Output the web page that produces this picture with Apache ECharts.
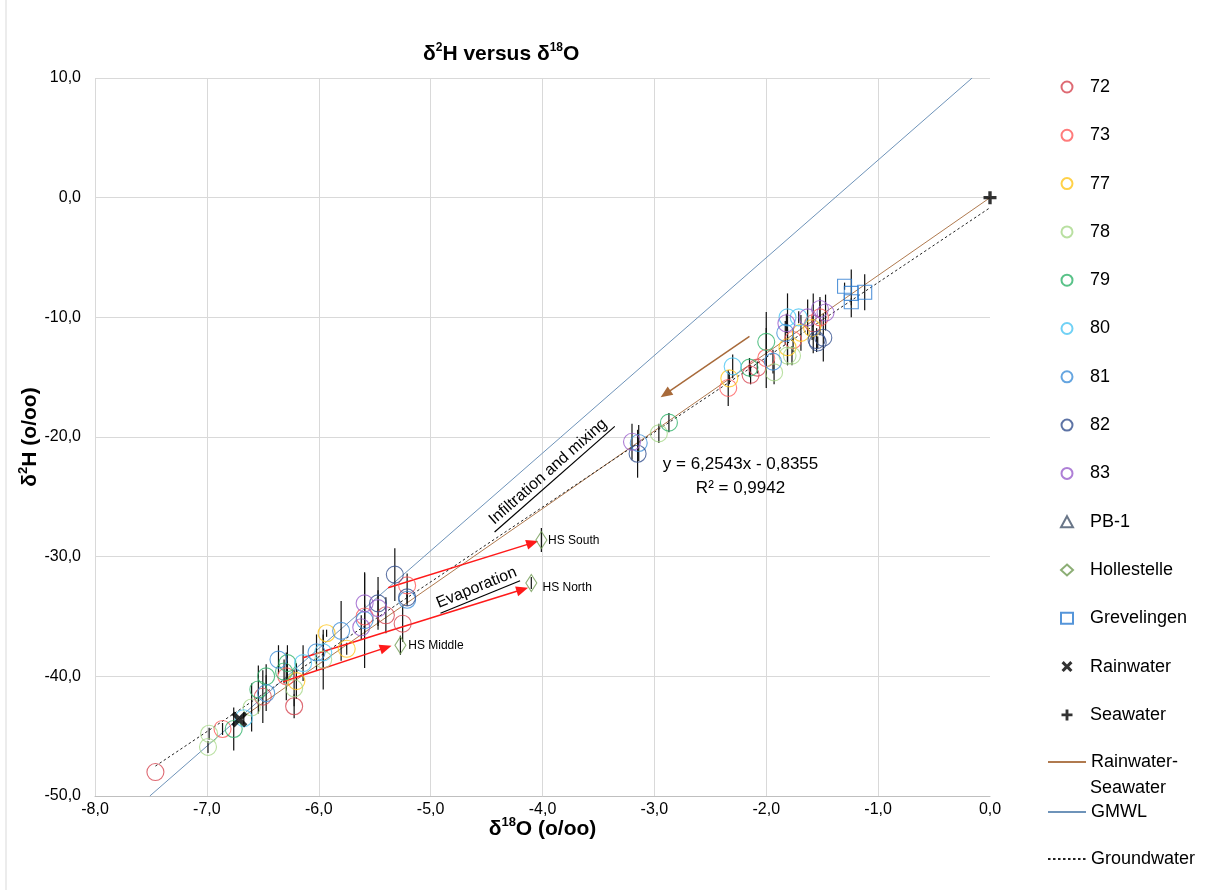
<!DOCTYPE html>
<html>
<head>
<meta charset="utf-8">
<script src="https://cdn.jsdelivr.net/npm/echarts@6/dist/echarts.min.js"></script>
<style>
html,body{margin:0;padding:0;background:#fff;}
#c{width:1214px;height:890px;}
</style>
</head>
<body>
<div id="c"></div>
<script>
// ---- data: [δ18O, δ2H, error(±δ2H)] ----
const d72 = [[-7.46,-48.0,0],[-6.50,-41.7,2.2],[-6.22,-42.5,1.0],[-5.40,-34.9,1.5],[-5.25,-35.6,1.5],[-2.14,-14.8,0.8],[-2.08,-14.2,0.5],[-1.58,-10.5,2.5]];
const d73 = [[-6.86,-44.4,0.5],[-6.29,-40.0,2.0],[-5.59,-35.0,1.0],[-5.21,-32.4,1.0],[-2.34,-15.9,1.5],[-2.00,-13.4,2.5],[-1.76,-11.9,1.0],[-1.52,-10.0,1.5]];
const d77 = [[-6.20,-40.4,1.5],[-5.93,-36.4,0.3],[-5.75,-37.7,0.5],[-2.33,-15.1,0.5],[-1.81,-12.5,1.5],[-1.69,-11.3,1.5],[-1.59,-10.9,1.0]];
const d78 = [[-6.98,-44.8,0.5],[-6.99,-45.9,0.5],[-6.60,-42.6,2.0],[-6.22,-41.0,1.5],[-5.96,-38.6,2.5],[-2.96,-19.7,0.8],[-1.93,-14.6,1.0],[-1.81,-13.2,0.8],[-1.77,-13.2,0.8]];
const d79 = [[-6.76,-44.4,1.8],[-6.54,-41.1,2.0],[-6.47,-40.0,1.0],[-6.28,-38.9,1.5],[-6.31,-39.6,1.0],[-2.87,-18.8,0.8],[-2.15,-14.2,0.8],[-2.00,-12.05,2.5]];
const d80 = [[-6.67,-43.5,0.5],[-6.14,-38.9,1.5],[-5.96,-38.0,1.5],[-2.30,-14.1,1.0],[-1.81,-10.0,2.0],[-1.71,-10.0,0.5]];
const d81 = [[-6.47,-41.4,1.5],[-6.36,-38.6,1.2],[-6.02,-38.0,1.5],[-5.80,-36.2,2.5],[-5.59,-35.3,4.0],[-5.21,-33.6,0.5],[-3.14,-20.5,1.5],[-1.94,-13.7,1.0],[-1.83,-11.3,1.0]];
const d82 = [[-5.47,-33.9,2.2],[-5.32,-31.5,2.2],[-5.21,-33.4,0.5],[-3.15,-21.4,2.0],[-1.55,-11.9,1.0],[-1.49,-11.7,2.0],[-1.54,-12.1,0.5]];
const d83 = [[-5.62,-35.9,1.0],[-5.59,-33.9,2.5],[-5.47,-34.3,1.5],[-3.20,-20.4,1.5],[-1.82,-10.5,0.8],[-1.63,-10.0,1.5],[-1.52,-9.3,1.0],[-1.47,-9.6,1.5]];
const dPB1 = [];
const dHollestelle = [[-4.01,-28.6,1.0],[-4.10,-32.2,0.5],[-5.27,-37.4,0.8]];
const dGrevelingen = [[-1.30,-7.4,0.3],[-1.24,-8.0,2.0],[-1.24,-8.7,0.3],[-1.12,-7.9,1.5]];
const dRainwater = [[-6.71,-43.6]];
const dSeawater = [[0,0]];
// lines (end points)
const lineRainSea = [[-6.71,-43.6],[0,0]];
const lineGMWL = [[-7.51,-50],[-0.16,10]];
const lineGroundwater = [[-7.46,-47.5],[0,-0.84]];
// annotation arrows [from, to]
const arrowsEvap = [[[-5.38,-32.6],[-4.09,-28.85]],[[-6.14,-38.45],[-4.18,-32.75]],[[-6.32,-40.45],[-5.40,-37.6]]];
const arrowMix = [[-2.15,-11.6],[-2.90,-16.4]];
const hsLabels = [['HS South',[-3.95,-28.68]],['HS North',[-4.00,-32.6]],['HS Middle',[-5.20,-37.4]]];
const xTicks = {min:-8,max:0,interval:1};
const yTicks = {min:-50,max:10,interval:10};

const FONT = "'Liberation Sans', Arial, sans-serif";
const fmt = v => v.toFixed(1).replace('.', ',');

const circleSeries = [
  ['72', d72, '#d64550'],
  ['73', d73, '#ff5a5a'],
  ['77', d77, '#ffc61a'],
  ['78', d78, '#a8d88a'],
  ['79', d79, '#2fb36a'],
  ['80', d80, '#4cc6f2'],
  ['81', d81, '#3f8fd8'],
  ['82', d82, '#34508f'],
  ['83', d83, '#9a5fcc']
];

const series = [];
function scatter(name, data, color, symbol, size, filled){
  return {
    name, type:'scatter', data: data.map(d => [d[0], d[1]]),
    symbol, symbolSize:size, z:5,
    itemStyle: filled ? {color:color} : {color:'rgba(0,0,0,0)', borderColor:color, borderWidth:1.1},
    emphasis:{disabled:true}, animation:false
  };
}
circleSeries.forEach(s => series.push(scatter(s[0], s[1], s[2], 'circle', 17, false)));
series.push(scatter('PB-1', dPB1, '#44546a', 'triangle', 14, false));
const hol = scatter('Hollestelle', dHollestelle, '#6f9a53', 'diamond', [11,17], false);
hol.markLine = {
  silent:true, animation:false, symbol:['none','triangle'], symbolSize:[10,12],
  label:{show:false},
  data: arrowsEvap.map(a => [{coord:a[0], lineStyle:{color:'#ff1a1a', width:1.5, type:'solid'}, itemStyle:{color:'#ff1a1a'}}, {coord:a[1]}])
    .concat([[{coord:arrowMix[0], lineStyle:{color:'#a86a3a', width:1.5, type:'solid'}, itemStyle:{color:'#7a3e10'}}, {coord:arrowMix[1]}]])
};
series.push(hol);
series.push(scatter('Grevelingen', dGrevelingen, '#2b7bd0', 'rect', 14, false));
const XPATH = 'path://M2,0 L5,3 L8,0 L10,2 L7,5 L10,8 L8,10 L5,7 L2,10 L0,8 L3,5 L0,2 Z';
const PLUSPATH = 'path://M3.7,0 H6.3 V3.7 H10 V6.3 H6.3 V10 H3.7 V6.3 H0 V3.7 H3.7 Z';
series.push(scatter('Rainwater', dRainwater, '#000', XPATH, 16, true));
series.push(scatter('Seawater', dSeawater, '#000', PLUSPATH, 13, true));

function lineSeries(name, data, color, type){
  return {name, type:'line', data, symbol:'none', showSymbol:false, z:3, silent:true, animation:false,
    lineStyle:{color, width:1, type}, itemStyle:{color}};
}
series.push(lineSeries('Rainwater-Seawater', lineRainSea, '#b07a4f', 'solid'));
series.push(lineSeries('GMWL', lineGMWL, '#6e93b9', 'solid'));
series.push(lineSeries('Groundwater', lineGroundwater, '#222', [2.5,2.5]));

// error bars
const errData = [];
[d72,d73,d77,d78,d79,d80,d81,d82,d83,dHollestelle,dGrevelingen].forEach(arr => arr.forEach(d => {
  if (d[2] > 0) errData.push([d[0], d[1]-d[2], d[1]+d[2]]);
}));
series.push({
  type:'custom', z:4, silent:true, animation:false, data: errData,
  encode:{x:0, y:[1,2]},
  renderItem: (params, api) => {
    const p1 = api.coord([api.value(0), api.value(1)]);
    const p2 = api.coord([api.value(0), api.value(2)]);
    return {type:'line', shape:{x1:p1[0], y1:p1[1], x2:p2[0], y2:p2[1]}, style:{stroke:'#111', lineWidth:1.2}};
  }
});

const sup = {fontSize:12, fontWeight:'bold', verticalAlign:'top', lineHeight:13, fontFamily:FONT, color:'#000'};
const gridColors = ['#d9d9d9','#d9d9d9','#d9d9d9','#d9d9d9','#d9d9d9','#d9d9d9','#d9d9d9','#d9d9d9','rgba(0,0,0,0)'];

const scatterNames = ['72','73','77','78','79','80','81','82','83','PB-1','Hollestelle','Grevelingen','Rainwater','Seawater'];

const option = {
  backgroundColor:'#fff',
  animation:false,
  textStyle:{fontFamily:FONT},
  title:{
    text:'δ{s|2}H versus δ{s|18}O', left:418, top:37,
    textStyle:{fontSize:21, fontWeight:'bold', color:'#000', fontFamily:FONT, lineHeight:25,
      rich:{s:sup}}
  },
  grid:{left:95, right:224, top:78, bottom:94, containLabel:false},
  xAxis:{
    type:'value', min:xTicks.min, max:xTicks.max, interval:xTicks.interval,
    axisLine:{show:true, onZero:false, lineStyle:{color:'#bfbfbf'}},
    axisTick:{show:false},
    splitLine:{show:true, lineStyle:{color:gridColors}},
    axisLabel:{formatter:fmt, color:'#000', fontSize:16, margin:6, fontFamily:FONT},
    name:'δ{s|18}O (o/oo)', nameLocation:'middle', nameGap:20, nameMoveOverlap:false,
    nameTextStyle:{fontSize:21, fontWeight:'bold', color:'#000', fontFamily:FONT, lineHeight:26, rich:{s:{...sup, fontSize:13}}}
  },
  yAxis:{
    type:'value', min:yTicks.min, max:yTicks.max, interval:yTicks.interval,
    axisLine:{show:false},
    axisTick:{show:false},
    splitLine:{show:true, lineStyle:{color:'#d9d9d9'}},
    axisLabel:{formatter:fmt, color:'#000', fontSize:16, margin:14, fontFamily:FONT},
    name:'δ{s|2}H (o/oo)', nameLocation:'middle', nameGap:52, nameRotate:90, nameMoveOverlap:false,
    nameTextStyle:{fontSize:21, fontWeight:'bold', color:'#000', fontFamily:FONT, lineHeight:26, rich:{s:{...sup, fontSize:13}}}
  },
  legend:[
    {
      orient:'vertical', left:1060, top:78, padding:0, itemWidth:12, itemHeight:11, itemGap:30.3,
      data: scatterNames,
      formatter: n => '{p|}' + n,
      textStyle:{fontSize:18, lineHeight:18, color:'#000', fontFamily:FONT, rich:{p:{width:12}}},
      selectedMode:false
    },
    {
      orient:'vertical', left:1047, top:753, padding:0, itemWidth:38, itemHeight:11, itemGap:0,
      data:[{name:'Rainwater-Seawater', itemStyle:{opacity:0}}], formatter:() => 'Rainwater-',
      textStyle:{fontSize:18, lineHeight:18, color:'#000', fontFamily:FONT},
      selectedMode:false
    },
    {
      orient:'vertical', left:1047, top:803, padding:0, itemWidth:38, itemHeight:11, itemGap:29,
      data:[{name:'GMWL', itemStyle:{opacity:0}},{name:'Groundwater', itemStyle:{opacity:0}}],
      textStyle:{fontSize:18, lineHeight:18, color:'#000', fontFamily:FONT},
      selectedMode:false
    }
  ],
  series
};

const chart = echarts.init(document.getElementById('c'), null, {renderer:'canvas'});
chart.setOption(option);

const P = c => chart.convertToPixel({gridIndex:0}, c);
function underlined(text, center, angleDeg, width){
  const p = P(center);
  return {
    type:'group', x:p[0], y:p[1], rotation: angleDeg*Math.PI/180, silent:true, z:10,
    children:[
      {type:'text', x:0, y:0, style:{text, fontSize:16, fontFamily:FONT, fill:'#000', align:'center', verticalAlign:'middle'}},
      {type:'line', shape:{x1:-width/2, y1:10, x2:width/2, y2:10}, style:{stroke:'#000', lineWidth:1.2}}
    ]
  };
}
const eqTop = P([-2.23,-22.3]);
const eqBot = P([-2.23,-24.3]);
const graphics = [
  {type:'line', shape:{x1:6, y1:0, x2:6, y2:890}, style:{stroke:'#d9d9d9', lineWidth:1}, silent:true},
  {type:'text', left:1090, top:779, style:{text:'Seawater', fontSize:18, fontFamily:FONT, fill:'#000'}},
  underlined('Infiltration and mixing', [-3.95,-22.9], 41.3, 160),
  underlined('Evaporation', [-4.59,-32.6], 22.2, 86),
  {type:'text', x:eqTop[0], y:eqTop[1], style:{text:'y = 6,2543x - 0,8355', fontSize:17, fontFamily:FONT, fill:'#000', align:'center', verticalAlign:'middle'}, z:10},
  {type:'text', x:eqBot[0], y:eqBot[1], style:{text:'R² = 0,9942', fontSize:17, fontFamily:FONT, fill:'#000', align:'center', verticalAlign:'middle'}, z:10}
];
hsLabels.forEach(h => {
  const p = P(h[1]);
  graphics.push({type:'text', x:p[0], y:p[1], style:{text:h[0], fontSize:12, fontFamily:FONT, fill:'#000', align:'left', verticalAlign:'middle'}, z:10});
});
chart.setOption({graphic:graphics});
</script>
</body>
</html>
